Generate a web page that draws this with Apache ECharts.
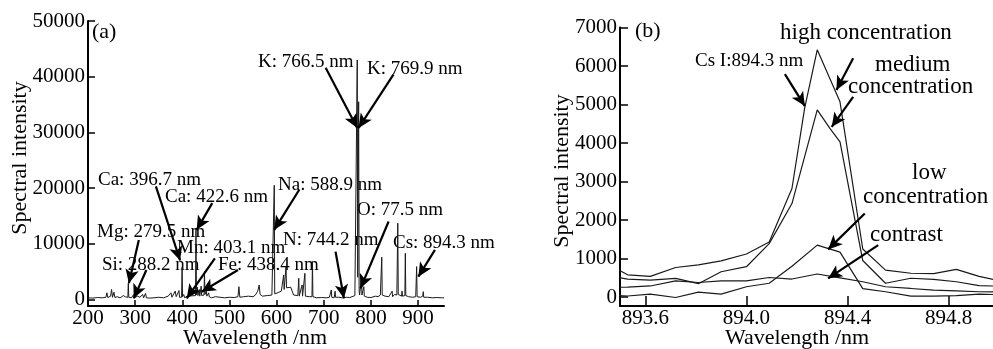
<!DOCTYPE html>
<html>
<head>
<meta charset="utf-8">
<script src="https://cdn.jsdelivr.net/npm/echarts@6/dist/echarts.min.js"></script>
<style>
  html, body { margin: 0; padding: 0; background: #fff; }
  #main { width: 993px; height: 349px; }
</style>
</head>
<body>
<div id="main"></div>
<script>
// (a) LIBS spectrum, [wavelength nm, intensity]
const spectrumA = [
  [200, 300], [210, 250], [220, 350], [230, 300], [238, 400], [240, 1200], [242, 350], [248, 600], [250, 1800], [252, 400],
  [255, 1300], [257, 350], [262, 500], [268, 300], [275, 700], [280, 450], [284.5, 400], [285.5, 2900], [286.5, 400],
  [292, 300], [296, 500], [297, 900], [298, 300], [305, 600], [310, 400], [316, 900], [318, 300], [322, 1100], [324, 300],
  [330, 250], [340, 300], [350, 400], [360, 300], [370, 600], [376, 1200], [378, 400], [382, 700], [385, 1500], [387, 500],
  [390, 800], [393, 1600], [394, 400], [398.5, 400], [399.5, 5800], [400.5, 500], [403, 900], [405, 300], [410, 600],
  [428, 700], [429, 12800], [430, 800], [432, 2200], [433, 700], [436, 1800], [437, 600], [440, 2400], [441, 700],
  [446, 800], [447, 5000], [448, 900], [451, 1500], [452, 600], [456, 1200], [457, 500], [462, 300], [470, 500], [480, 400],
  [490, 300], [500, 400], [510, 350], [518, 500], [520, 2300], [522, 400], [530, 500], [540, 600], [550, 500], [555, 800],
  [560, 1500], [563, 2600], [565, 900], [570, 600], [580, 700], [590, 800], [594, 900], [595, 20500], [596, 1000],
  [600, 1100], [605, 1300], [610, 1500], [614, 1800], [615, 4400], [616, 1800], [619, 2000], [620, 5900], [621, 2100],
  [625, 2200], [630, 2200], [634, 2100], [636, 800], [640, 500], [645, 700], [647, 3800], [648, 600], [652, 500],
  [654, 2600], [655, 600], [659, 700], [660, 4700], [661, 600], [665, 400], [670, 500], [675, 500], [676, 6800], [677, 500],
  [685, 300], [695, 350], [705, 300], [712, 400], [716, 1700], [717, 400], [722, 300], [724, 1500], [725, 400], [732, 400],
  [740, 300], [748, 400], [755, 350], [760, 500], [766, 700], [770, 900], [771, 43000], [772, 4000], [774, 35500],
  [775, 1500], [776, 800], [779, 700], [780, 3800], [781, 800], [784, 600], [785, 2300], [786, 600], [792, 400], [800, 350],
  [810, 600], [815, 500], [820, 800], [823, 7600], [824, 800], [830, 600], [838, 500], [842, 700], [845, 1500], [846, 500],
  [850, 900], [855, 800], [857, 13700], [858, 900], [862, 700], [865, 600], [866, 1500], [867, 600], [872, 700],
  [873, 8300], [874, 700], [880, 500], [888, 400], [895, 500], [897, 5900], [898, 500], [905, 400], [910, 600], [911, 1400],
  [912, 400], [920, 400], [930, 300], [940, 350], [950, 300], [955, 300]
];
const ticksAx = [200, 300, 400, 500, 600, 700, 800, 900];
const ticksAy = [0, 10000, 20000, 30000, 40000, 50000];

// (b) Cs I 894.3 nm line at four concentrations
const highB = [
  [893.44, 900], [893.53, 580], [893.62, 540], [893.72, 770], [893.81, 840], [893.90, 940], [894.00, 1120], [894.09, 1430],
  [894.18, 2820], [894.23, 4900], [894.28, 6420], [894.37, 5070], [894.46, 1250], [894.55, 700], [894.65, 620],
  [894.74, 610], [894.83, 720], [894.92, 540], [895.02, 400]
];
const mediumB = [
  [893.44, 560], [893.53, 470], [893.62, 440], [893.72, 485], [893.81, 350], [893.90, 660], [894.00, 790], [894.09, 1390],
  [894.18, 2430], [894.28, 4860], [894.33, 4380], [894.37, 4030], [894.46, 950], [894.55, 360], [894.65, 490],
  [894.74, 460], [894.83, 400], [894.92, 300], [895.02, 280]
];
const lowB = [
  [893.44, 60], [893.53, 30], [893.62, 80], [893.72, -10], [893.81, 130], [893.90, 80], [894.00, 270], [894.09, 360],
  [894.18, 800], [894.28, 1350], [894.37, 1170], [894.46, 220], [894.55, 140], [894.65, 25], [894.74, 25], [894.83, 40],
  [894.92, 80], [895.02, 60]
];
const contrastB = [
  [893.44, 250], [893.53, 260], [893.62, 290], [893.72, 420], [893.81, 380], [893.90, 420], [894.00, 420], [894.09, 510],
  [894.18, 470], [894.28, 600], [894.37, 500], [894.46, 400], [894.55, 270], [894.65, 225], [894.74, 180], [894.83, 165],
  [894.92, 140], [895.02, 130]
];
const ticksBx = [893.6, 894.0, 894.4, 894.8];
const ticksBy = [0, 1000, 2000, 3000, 4000, 5000, 6000, 7000];

// arrows: [fromX, fromY, toX, toY]
const arrowsA = [
  [704, 41600, 771, 30800], [848, 40400, 774, 30800], [344, 20300, 395.4, 7000], [463.5, 17300, 430.5, 12500],
  [648, 19700, 595, 12500], [307.8, 10700, 286.7, 2900], [323.8, 5300, 297, 200], [469, 7400, 409.5, 200],
  [518, 5300, 441, 1400], [725, 8600, 742.7, 200], [837.5, 14000, 778, 2000], [935.8, 8900, 900.6, 4100]
];
const arrowsB = [
  [894.152, 5790, 894.231, 4960], [894.422, 6200, 894.356, 5380], [894.422, 5200, 894.337, 4420],
  [894.468, 2170, 894.323, 1240], [894.521, 1350, 894.323, 485]
];

// text: [label, left px, center y px, size]
const notes = [
  ["(a)", 92, 32, 22], ["K: 766.5 nm", 258, 62, 19], ["K: 769.9 nm", 367, 69, 19],
  ["Ca: 396.7 nm", 98, 180, 19], ["Ca: 422.6 nm", 165, 197, 19], ["Na: 588.9 nm", 278, 185, 19],
  ["O: 77.5 nm", 357, 210, 19], ["Mg: 279.5 nm", 97, 232, 19], ["Mn: 403.1 nm", 177, 248, 19],
  ["N: 744.2 nm", 283, 240, 19], ["Cs: 894.3 nm", 393, 243, 19], ["Si: 288.2 nm", 102, 265, 19],
  ["Fe: 438.4 nm", 218, 265, 19],
  ["(b)", 635, 31, 22], ["high concentration", 780, 33, 23], ["Cs I:894.3 nm", 695, 61, 19],
  ["medium", 875, 65, 23], ["concentration", 848, 87, 23], ["low", 912, 173, 23],
  ["concentration", 863, 197, 23], ["contrast", 870, 235, 23]
];

const FONT = "Liberation Serif";

function arrowLines(list) {
  return list.map(function (a) {
    return [{ coord: [a[0], a[1]] }, { coord: [a[2], a[3]] }];
  });
}

function textEl(t, x, y, size, rot, center) {
  var al = rot || center ? "center" : "left";
  return {
    type: "text", x: x, y: y, rotation: rot || 0, silent: true,
    style: {
      text: t, fill: "#000", font: size + "px '" + FONT + "'",
      textAlign: al, align: al,
      textVerticalAlign: "middle", verticalAlign: "middle"
    }
  };
}

function lineSeries(data, idx, extra) {
  var s = {
    type: "line", xAxisIndex: idx, yAxisIndex: idx, data: data, symbol: "none",
    clip: true, silent: true,
    lineStyle: { color: "#1a1a1a", width: idx === 0 ? 1 : 1.2 }
  };
  return Object.assign(s, extra || {});
}

function markArrows(list) {
  return {
    silent: true, animation: false, symbol: ["none", "arrow"], symbolSize: [10, 14],
    label: { show: false },
    lineStyle: { color: "#000", width: 2.2, type: "solid" },
    emphasis: { disabled: true },
    data: arrowLines(list)
  };
}

function plain(v) { return String(v); }

var axisLine = { show: true, onZero: false, lineStyle: { color: "#000", width: 2 } };
var labelBase = { color: "#000", fontFamily: FONT, fontSize: 21 };

var graphics = notes.map(function (n) { return textEl(n[0], n[1], n[2], n[3]); });
graphics.push(textEl("Wavelength /nm", 255, 338, 22, 0, true));
graphics.push(textEl("Wavelength /nm", 797, 338, 22, 0, true));
graphics.push(textEl("Spectral intensity", 20, 158, 22, Math.PI / 2));
graphics.push(textEl("Spectral intensity", 562, 171, 22, Math.PI / 2));

var option = {
  animation: false,
  backgroundColor: "#fff",
  grid: [
    { left: 88, right: 549, top: 21, bottom: 43 },
    { left: 620, right: 0, top: 27.5, bottom: 43 }
  ],
  xAxis: [
    {
      type: "value", gridIndex: 0, min: 200, max: 955,
      axisLine: axisLine, splitLine: { show: false },
      axisTick: { inside: true, length: 6, customValues: ticksAx, lineStyle: { color: "#000", width: 1.5 } },
      axisLabel: Object.assign({ customValues: ticksAx, margin: 2, formatter: plain }, labelBase)
    },
    {
      type: "value", gridIndex: 1, min: 893.5, max: 894.975,
      axisLine: axisLine, splitLine: { show: false },
      axisTick: { inside: true, length: 10, customValues: ticksBx, lineStyle: { color: "#000", width: 1.5 } },
      axisLabel: Object.assign({ customValues: ticksBx, margin: 2, formatter: function (v) { return v.toFixed(1); } }, labelBase)
    }
  ],
  yAxis: [
    {
      type: "value", gridIndex: 0, min: -1170, max: 50000,
      axisLine: axisLine, splitLine: { show: false },
      axisTick: { inside: true, length: 7, customValues: ticksAy, lineStyle: { color: "#000", width: 1.5 } },
      axisLabel: Object.assign({ customValues: ticksAy, margin: 3, formatter: plain }, labelBase)
    },
    {
      type: "value", gridIndex: 1, min: -230, max: 7000,
      axisLine: axisLine, splitLine: { show: false },
      axisTick: { inside: true, length: 8, customValues: ticksBy, lineStyle: { color: "#000", width: 1.5 } },
      axisLabel: Object.assign({ customValues: ticksBy, margin: 3, formatter: plain }, labelBase)
    }
  ],
  series: [
    lineSeries(spectrumA, 0, { markLine: markArrows(arrowsA) }),
    lineSeries(highB, 1, { markLine: markArrows(arrowsB) }),
    lineSeries(mediumB, 1),
    lineSeries(lowB, 1),
    lineSeries(contrastB, 1)
  ],
  graphic: graphics
};

var chart = echarts.init(document.getElementById("main"));
chart.setOption(option);
window.addEventListener("resize", function () { chart.resize(); });
</script>
</body>
</html>
